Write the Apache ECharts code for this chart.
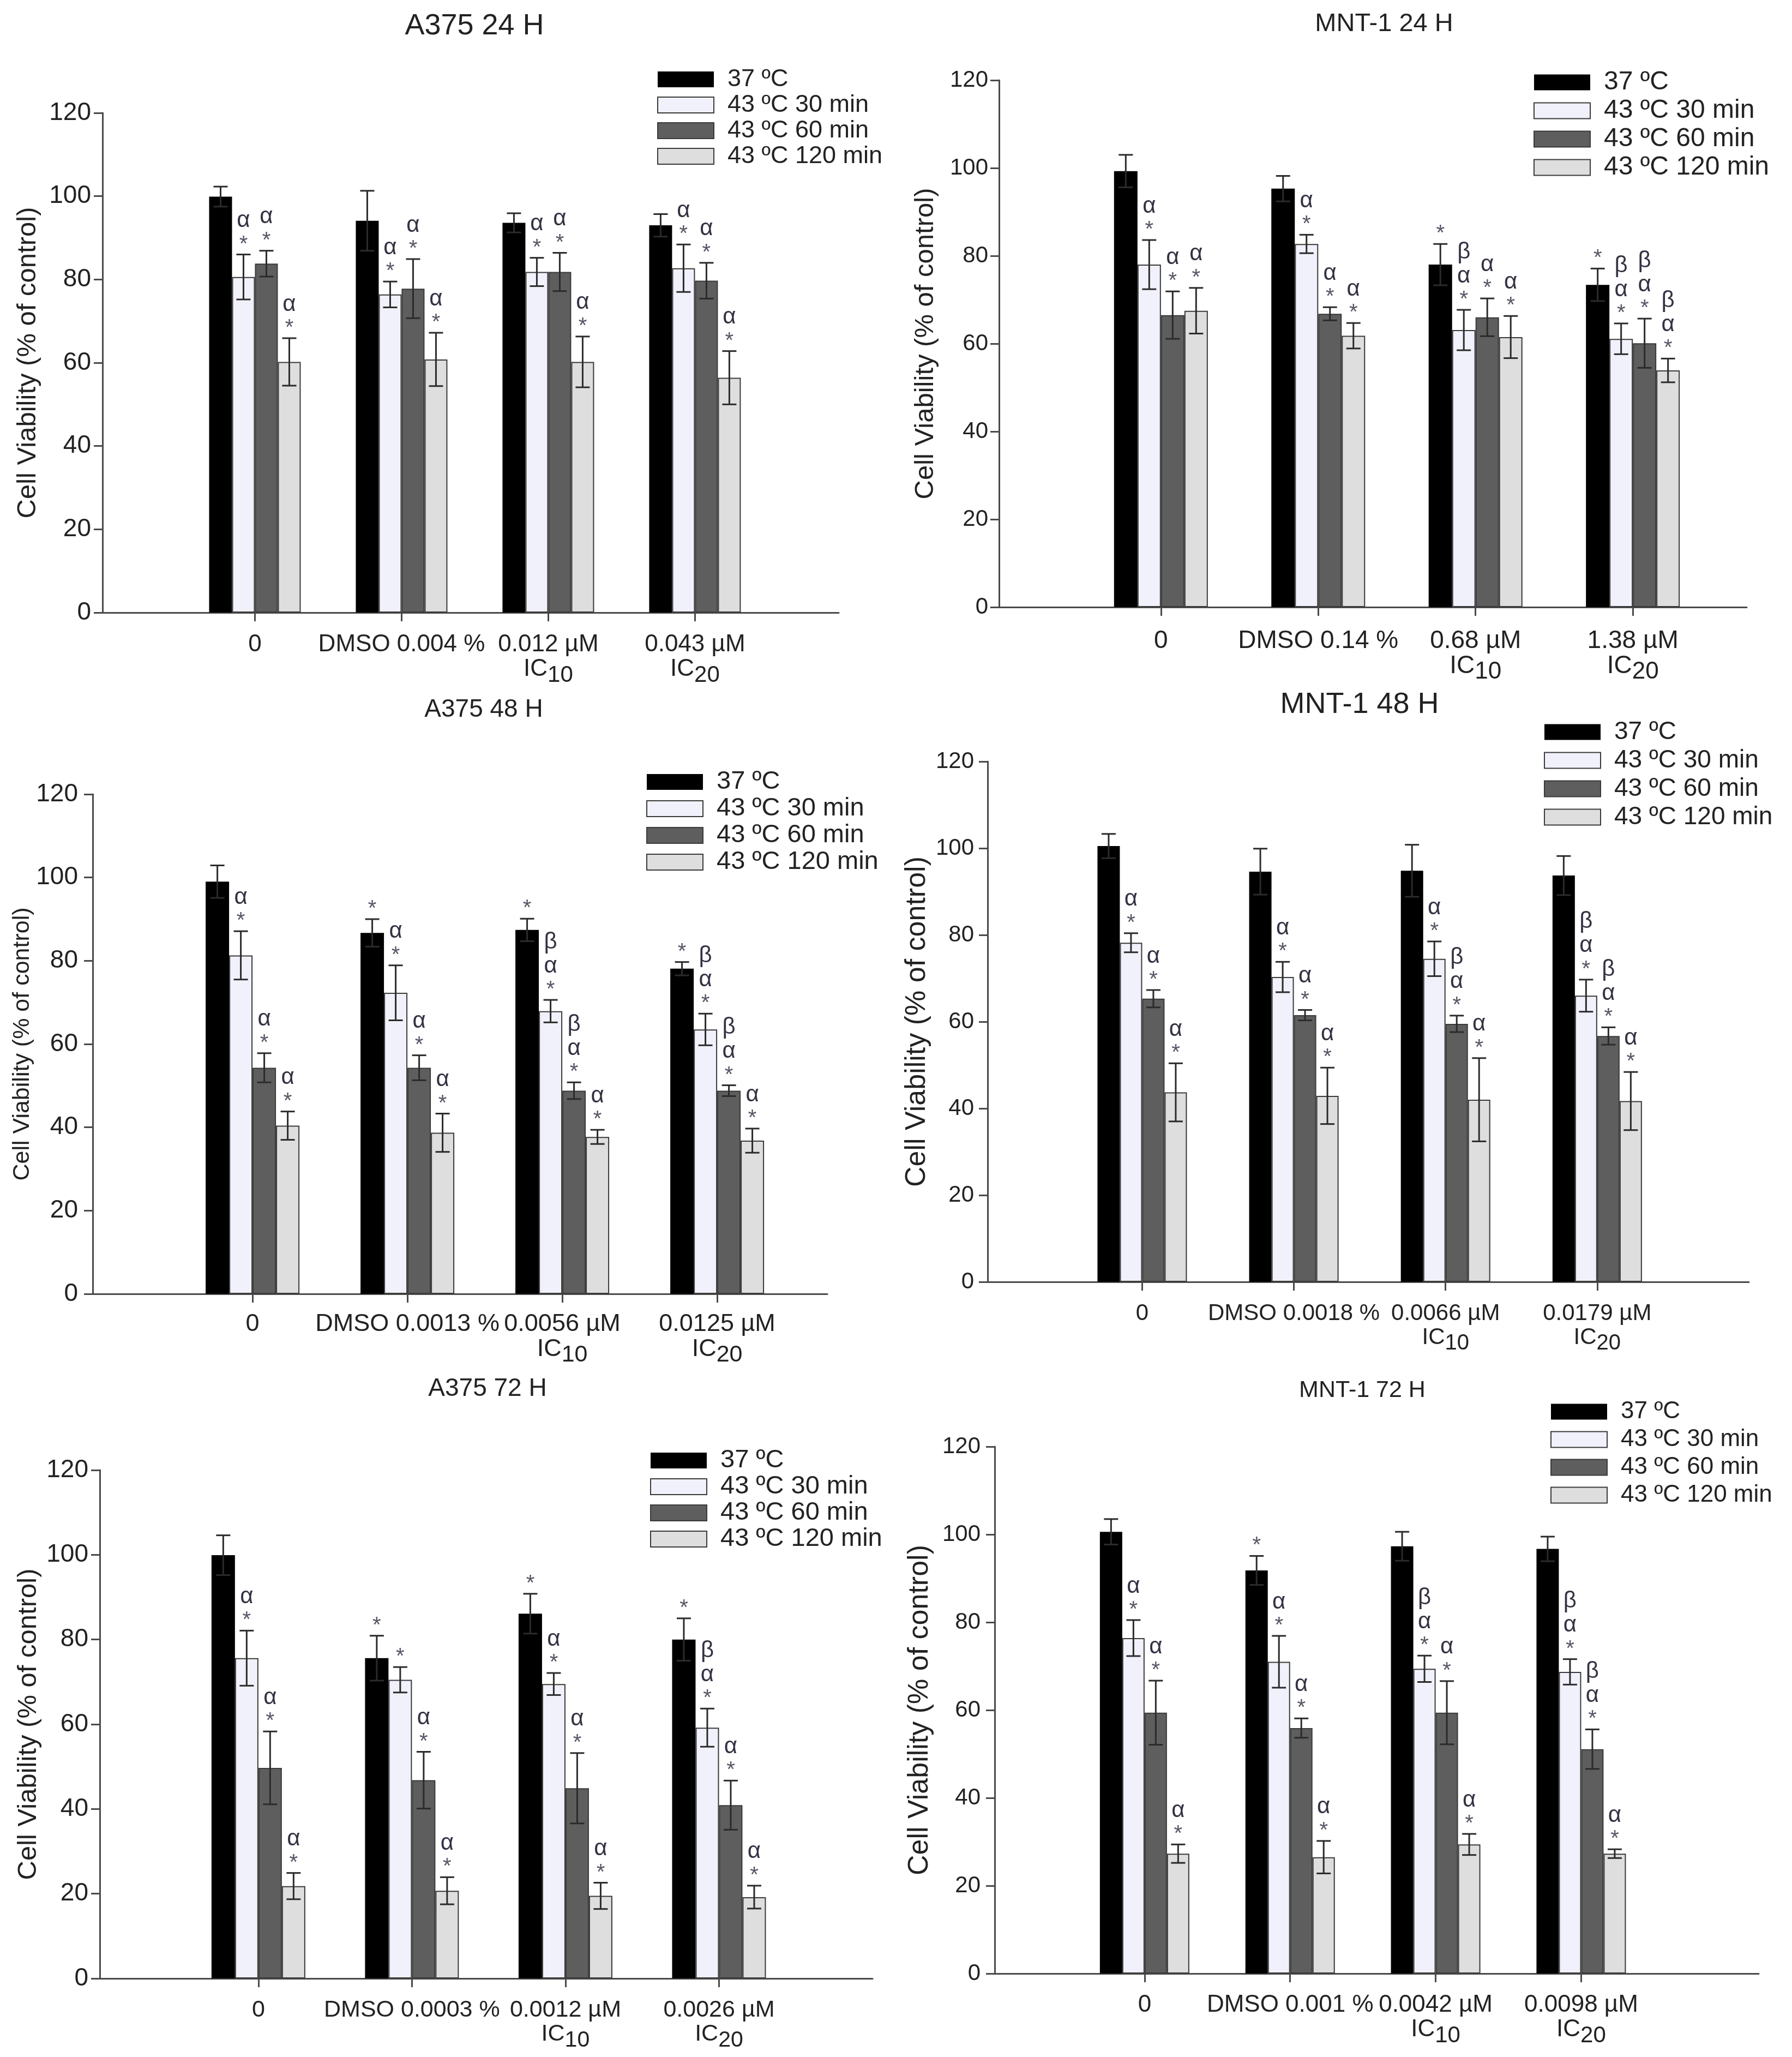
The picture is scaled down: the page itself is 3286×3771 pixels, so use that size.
<!DOCTYPE html>
<html><head><meta charset="utf-8">
<script src="https://cdn.jsdelivr.net/npm/echarts@6/dist/echarts.min.js"></script>
<style>html,body{margin:0;padding:0;background:#fff}#c{width:3286px;height:3771px}</style>
</head><body><div id="c"></div>
<script>
// ---------------- DATA ----------------
const seriesNames = ['37 ºC', '43 ºC 30 min', '43 ºC 60 min', '43 ºC 120 min'];
const panelTitles = ['A375 24 H', 'MNT-1 24 H', 'A375 48 H', 'MNT-1 48 H', 'A375 72 H', 'MNT-1 72 H'];
const icSubscripts = ['', '', '10', '20'];
const yAxisName = 'Cell Viability (% of control)';

// A375 24 H
const a375_24_labels = ['0', 'DMSO 0.004 %', '0.012 µM', '0.043 µM'];
const a375_24_mean = [[99.9, 94.1, 93.6, 93.0], [80.6, 76.4, 81.8, 82.7], [83.8, 77.8, 81.8, 79.7], [60.2, 60.8, 60.2, 56.4]];
const a375_24_err  = [[2.4, 7.2, 2.3, 2.7], [5.4, 3.1, 3.4, 5.7], [3.1, 7.1, 4.6, 4.3], [5.7, 6.4, 6.1, 6.4]];
const a375_24_marks = [['', '', '', ''], ['*α', '*α', '*α', '*α'], ['*α', '*α', '*α', '*α'], ['*α', '*α', '*α', '*α']];

// MNT-1 24 H
const mnt_24_labels = ['0', 'DMSO 0.14 %', '0.68 µM', '1.38 µM'];
const mnt_24_mean = [[99.3, 95.3, 78.0, 73.4], [78.0, 82.7, 63.1, 61.1], [66.5, 66.8, 66.0, 60.1], [67.5, 61.8, 61.5, 53.9]];
const mnt_24_err  = [[3.7, 2.9, 4.7, 3.7], [5.6, 2.1, 4.6, 3.5], [5.4, 1.5, 4.3, 5.6], [5.2, 2.9, 4.8, 2.7]];
const mnt_24_marks = [['', '', '*', '*'], ['*α', '*α', '*αβ', '*αβ'], ['*α', '*α', '*α', '*αβ'], ['*α', '*α', '*α', '*αβ']];

// A375 48 H
const a375_48_labels = ['0', 'DMSO 0.0013 %', '0.0056 µM', '0.0125 µM'];
const a375_48_mean = [[99.0, 86.7, 87.4, 78.1], [81.3, 72.3, 67.9, 63.5], [54.3, 54.3, 48.8, 48.8], [40.4, 38.7, 37.7, 36.8]];
const a375_48_err  = [[3.9, 3.3, 2.7, 1.6], [5.8, 6.6, 2.7, 3.8], [3.5, 3.0, 2.0, 1.3], [3.4, 4.6, 1.7, 2.9]];
const a375_48_marks = [['', '*', '*', '*'], ['*α', '*α', '*αβ', '*αβ'], ['*α', '*α', '*αβ', '*αβ'], ['*α', '*α', '*α', '*α']];

// MNT-1 48 H
const mnt_48_labels = ['0', 'DMSO 0.0018 %', '0.0066 µM', '0.0179 µM'];
const mnt_48_mean = [[100.5, 94.6, 94.8, 93.7], [78.2, 70.3, 74.5, 66.0], [65.3, 61.5, 59.5, 56.7], [43.7, 42.9, 42.0, 41.7]];
const mnt_48_err  = [[2.8, 5.3, 6.0, 4.5], [2.2, 3.5, 4.0, 3.7], [2.0, 1.2, 1.9, 2.0], [6.7, 6.5, 9.6, 6.7]];
const mnt_48_marks = [['', '', '', ''], ['*α', '*α', '*α', '*αβ'], ['*α', '*α', '*αβ', '*αβ'], ['*α', '*α', '*α', '*α']];

// A375 72 H
const a375_72_labels = ['0', 'DMSO 0.0003 %', '0.0012 µM', '0.0026 µM'];
const a375_72_mean = [[99.9, 75.6, 86.1, 80.0], [75.6, 70.5, 69.5, 59.2], [49.7, 46.8, 44.9, 40.9], [21.8, 20.7, 19.5, 19.2]];
const a375_72_err  = [[4.7, 5.3, 4.7, 5.0], [6.5, 3.0, 2.6, 4.5], [8.6, 6.7, 8.3, 5.8], [3.1, 3.2, 3.1, 2.7]];
const a375_72_marks = [['', '*', '*', '*'], ['*α', '*', '*α', '*αβ'], ['*α', '*α', '*α', '*α'], ['*α', '*α', '*α', '*α']];

// MNT-1 72 H
const mnt_72_labels = ['0', 'DMSO 0.001 %', '0.0042 µM', '0.0098 µM'];
const mnt_72_mean = [[100.6, 91.8, 97.3, 96.7], [76.4, 71.0, 69.4, 68.7], [59.4, 55.9, 59.4, 51.1], [27.3, 26.5, 29.4, 27.3]];
const mnt_72_err  = [[2.9, 3.3, 3.3, 2.8], [4.1, 5.9, 3.0, 2.9], [7.3, 2.2, 7.2, 4.5], [2.1, 3.7, 2.4, 1.0]];
const mnt_72_marks = [['', '*', '', ''], ['*α', '*α', '*αβ', '*αβ'], ['*α', '*α', '*α', '*αβ'], ['*α', '*α', '*α', '*α']];

// ---------------- LAYOUT / STYLE ----------------
const FONT = '"Liberation Sans", Arial, Helvetica, sans-serif';
const TXT = '#222222';
const AX = '#4a4a4a';
const fills = ['#000000', '#F1F1FB', '#5E5E5E', '#DEDEDE'];
const borders = ['#000000', '#3a3a3a', '#3a3a3a', '#3a3a3a'];

const panels = [
  {labels: a375_24_labels, mean: a375_24_mean, err: a375_24_err, marks: a375_24_marks,
   g: {left: 188, top: 207, width: 1350, height: 916}, xmin: -0.039, xmax: 4.98, bw: 42,
   tf: 54, tx: 870, ty: 48, xf: 44, xm: 36, yf: 46, ym: 21, nf: 49, ng: 112,
   lx: 1205, ly: 123, lf: 45, lg: 2},
  {labels: mnt_24_labels, mean: mnt_24_mean, err: mnt_24_err, marks: mnt_24_marks,
   g: {left: 1832, top: 147, width: 1371, height: 966}, xmin: -0.029, xmax: 4.724, bw: 43,
   tf: 47, tx: 2538, ty: 44, xf: 46, xm: 39, yf: 42, ym: 20, nf: 49, ng: 110,
   lx: 2812, ly: 127, lf: 48, lg: 4},
  {labels: a375_48_labels, mean: a375_48_mean, err: a375_48_err, marks: a375_48_marks,
   g: {left: 170, top: 1456, width: 1347, height: 916}, xmin: -0.032, xmax: 4.711, bw: 43,
   tf: 46, tx: 887, ty: 1301, xf: 45, xm: 33, yf: 46, ym: 27, nf: 43, ng: 101,
   lx: 1185, ly: 1410, lf: 47, lg: 2},
  {labels: mnt_48_labels, mean: mnt_48_mean, err: mnt_48_err, marks: mnt_48_marks,
   g: {left: 1811, top: 1396, width: 1396, height: 954}, xmin: -0.019, xmax: 5.0, bw: 41,
   tf: 54, tx: 2493, ty: 1292, xf: 42, xm: 35, yf: 42, ym: 25, nf: 52, ng: 103,
   lx: 2831, ly: 1319, lf: 46, lg: 6},
  {labels: a375_72_labels, mean: a375_72_mean, err: a375_72_err, marks: a375_72_marks,
   g: {left: 183, top: 2695, width: 1417, height: 932}, xmin: -0.033, xmax: 5.0, bw: 43,
   tf: 46, tx: 894, ty: 2546, xf: 43, xm: 35, yf: 46, ym: 21, nf: 49, ng: 106,
   lx: 1192, ly: 2654, lf: 47, lg: 1},
  {labels: mnt_72_labels, mean: mnt_72_mean, err: mnt_72_err, marks: mnt_72_marks,
   g: {left: 1824, top: 2652, width: 1401, height: 966}, xmin: -0.03, xmax: 5.22, bw: 41,
   tf: 43, tx: 2498, ty: 2549, xf: 44, xm: 35, yf: 42, ym: 26, nf: 52, ng: 111,
   lx: 2843, ly: 2566, lf: 44, lg: 7}
];

const option = {
  backgroundColor: '#ffffff', animation: false,
  title: [], grid: [], xAxis: [], yAxis: [], legend: [], series: []
};

panels.forEach((p, i) => {
  option.title.push({
    text: panelTitles[i], left: p.tx, top: p.ty - p.tf / 2, textAlign: 'center', padding: 0,
    textStyle: {fontSize: p.tf, fontWeight: 'normal', color: TXT, fontFamily: FONT}
  });
  option.grid.push(Object.assign({containLabel: false}, p.g));
  option.xAxis.push({
    type: 'value', gridIndex: i, min: p.xmin, max: p.xmax,
    axisLine: {show: true, onZero: false, lineStyle: {color: AX, width: 3}},
    axisTick: {show: true, customValues: [1, 2, 3, 4], length: 16, lineStyle: {color: AX, width: 3}},
    splitLine: {show: false},
    axisLabel: {
      customValues: [1, 2, 3, 4], margin: p.xm, color: TXT, fontFamily: FONT, fontSize: p.xf,
      formatter: (v) => {
        const k = Math.round(v) - 1;
        const sub = icSubscripts[k];
        return sub ? '{a|' + p.labels[k] + '}\n{b|IC}{s|' + sub + '}' : '{a|' + p.labels[k] + '}';
      },
      rich: {
        a: {fontSize: p.xf, lineHeight: 46, color: TXT, fontFamily: FONT},
        b: {fontSize: p.xf, lineHeight: p.xf, color: TXT, fontFamily: FONT, verticalAlign: 'top'},
        s: {fontSize: p.xf - 2, lineHeight: p.xf + 10, color: TXT, fontFamily: FONT, verticalAlign: 'bottom'}
      }
    }
  });
  option.yAxis.push({
    type: 'value', gridIndex: i, min: 0, max: 120, interval: 20,
    name: yAxisName, nameLocation: 'middle', nameGap: p.ng,
    nameTextStyle: {fontSize: p.nf, color: TXT, fontFamily: FONT},
    axisLine: {show: true, onZero: false, lineStyle: {color: AX, width: 3}},
    axisTick: {show: true, length: 16, lineStyle: {color: AX, width: 3}},
    splitLine: {show: false},
    axisLabel: {fontSize: p.yf, margin: p.ym, color: TXT, fontFamily: FONT}
  });
  option.legend.push({
    orient: 'vertical', left: p.lx, top: p.ly, padding: 0, itemWidth: 103, itemHeight: 29,
    itemGap: p.lg, icon: 'rect', selectedMode: false, data: seriesNames,
    textStyle: {fontSize: p.lf, color: TXT, fontFamily: FONT, padding: [0, 0, 0, 20]}
  });
  for (let s = 0; s < 4; s++) {
    option.series.push({
      type: 'bar', name: seriesNames[s], xAxisIndex: i, yAxisIndex: i,
      barWidth: p.bw, barGap: '0%', silent: true,
      itemStyle: {color: fills[s], borderColor: borders[s], borderWidth: s === 0 ? 0 : 2},
      data: p.mean[s].map((v, k) => [k + 1, v])
    });
  }
  const errData = [];
  const errMarks = [];
  for (let s = 0; s < 4; s++) {
    for (let k = 0; k < 4; k++) {
      errData.push([k + 1, p.mean[s][k], p.err[s][k], s]);
      errMarks.push(p.marks[s][k]);
    }
  }
  option.series.push({
    type: 'custom', xAxisIndex: i, yAxisIndex: i, z: 5, silent: true, clip: false,
    encode: {x: 0, y: 1},
    data: errData,
    renderItem: (params, api) => {
      const xv = api.value(0), m = api.value(1), e = api.value(2), s = api.value(3);
      const c = api.coord([xv, m]);
      const cx = c[0] + (s - 1.5) * p.bw;
      const yHi = api.coord([xv, m + e])[1];
      const yLo = api.coord([xv, m - e])[1];
      const hc = 13;
      const st = {stroke: '#2b2b2b', lineWidth: 3};
      const children = [
        {type: 'line', shape: {x1: cx, y1: yHi, x2: cx, y2: yLo}, style: st},
        {type: 'line', shape: {x1: cx - hc, y1: yHi, x2: cx + hc, y2: yHi}, style: st},
        {type: 'line', shape: {x1: cx - hc, y1: yLo, x2: cx + hc, y2: yLo}, style: st}
      ];
      Array.from(errMarks[params.dataIndex]).forEach((ch, j) => {
        children.push({
          type: 'text', x: cx, y: yHi - 18 - j * 44,
          style: {text: ch, fill: ch === '*' ? '#5a5566' : '#333344',
                  font: (ch === '*' ? '40px ' : '42px ') + FONT, align: 'center', verticalAlign: 'middle'}
        });
      });
      return {type: 'group', children};
    }
  });
});

const chart = echarts.init(document.getElementById('c'), null, {renderer: 'canvas', width: 3286, height: 3771});
chart.setOption(option);
</script>
</body></html>
